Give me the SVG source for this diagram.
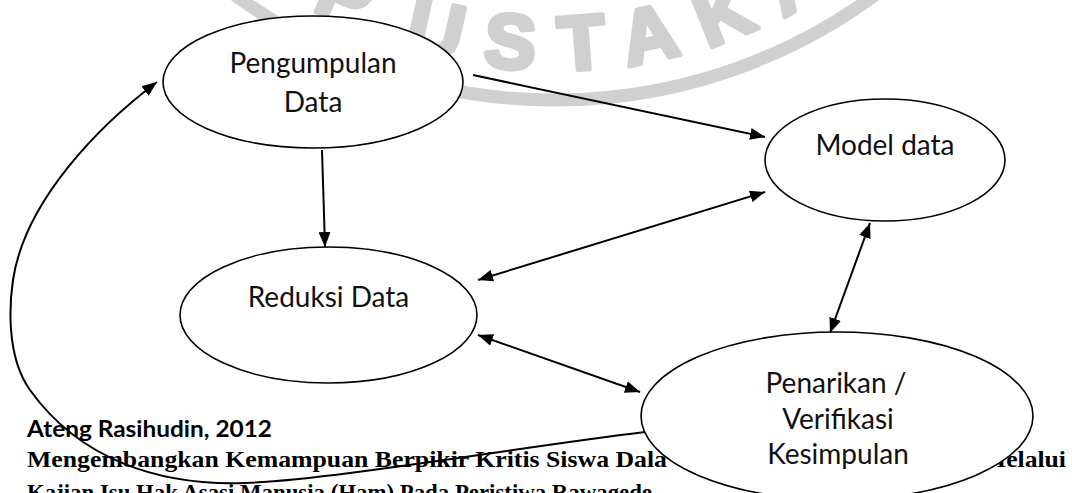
<svg xmlns="http://www.w3.org/2000/svg" xmlns:xlink="http://www.w3.org/1999/xlink" width="1072" height="493" viewBox="0 0 1072 493">
<style>
.node ellipse{fill:#fff;stroke:#000;stroke-width:1.6}
.lbl{font-family:Lato,"Open Sans","Liberation Sans",sans-serif;font-size:28px;fill:#111;text-anchor:middle}
.conn{fill:none;stroke:#000;stroke-width:2}
.wm{fill:#d0d0d0;stroke:#d0d0d0;stroke-width:5;stroke-linejoin:round;font-family:"Liberation Sans",Arial,sans-serif;font-weight:bold;font-size:77px}
.foot1{font-family:Lato,"Liberation Sans",sans-serif;font-weight:bold;font-size:23px;fill:#000}
.foot2{font-family:"Liberation Serif","Times New Roman",serif;font-weight:bold;font-size:23px;fill:#000}
</style>
<defs>
<marker id="ah" viewBox="0 0 15 12" refX="15" refY="6" markerWidth="15" markerHeight="12" markerUnits="userSpaceOnUse" orient="auto-start-reverse">
<path d="M0,0 L15,6 L0,12 z" fill="#000"/>
</marker>
<path id="wmArc" d="M45,-440 A510,510 0 0 0 1065,-440"/>
</defs>
<rect width="1072" height="493" fill="#fff"/>
<g id="watermark">
<circle cx="555" cy="-440" r="540" fill="none" stroke="#d0d0d0" stroke-width="13"/>
<text class="wm" letter-spacing="26"><textPath xlink:href="#wmArc" href="#wmArc" startOffset="548">P<tspan dx="22">USTAKA</tspan></textPath></text>
</g>
<g id="footer">
<text class="foot1" x="27" y="437" textLength="245" lengthAdjust="spacingAndGlyphs">Ateng Rasihudin, 2012</text>
<text class="foot2" x="27" y="467" textLength="640" lengthAdjust="spacingAndGlyphs">Mengembangkan Kemampuan Berpikir Kritis Siswa Dala</text>
<text class="foot2" x="982" y="467" textLength="84" lengthAdjust="spacingAndGlyphs">Melalui</text>
<text class="foot2" x="27" y="500" textLength="625" lengthAdjust="spacingAndGlyphs">Kajian Isu Hak Asasi Manusia (Ham) Pada Peristiwa Rawagede</text>
</g>
<g id="connectors">
<path class="conn" d="M473,75 L765,137" marker-end="url(#ah)"/>
<path class="conn" d="M322,150 L325,247" marker-end="url(#ah)"/>
<path class="conn" d="M478,280 L765,192" marker-start="url(#ah)" marker-end="url(#ah)"/>
<path class="conn" d="M870,223 L830,333" marker-start="url(#ah)" marker-end="url(#ah)"/>
<path class="conn" d="M478,335 L640,392" marker-start="url(#ah)" marker-end="url(#ah)"/>
<path class="conn" d="M645,432 C520,447 330,480 245,483 C160,486 80,460 30,390 C5,355 10,300 13,280 C25,200 100,125 157,82" marker-end="url(#ah)"/>
</g>
<g id="node-pengumpulan" class="node">
<ellipse cx="313" cy="82" rx="150" ry="66"/>
<text class="lbl" x="313" y="73">Pengumpulan</text>
<text class="lbl" x="313" y="112">Data</text>
</g>
<g id="node-model" class="node">
<ellipse cx="885" cy="160" rx="120" ry="61"/>
<text class="lbl" x="885" y="155">Model data</text>
</g>
<g id="node-reduksi" class="node">
<ellipse cx="328.5" cy="315" rx="148.5" ry="68"/>
<text class="lbl" x="328.5" y="307">Reduksi Data</text>
</g>
<g id="node-penarikan" class="node">
<ellipse cx="837" cy="416" rx="196" ry="84"/>
<text class="lbl" x="836" y="393">Penarikan /</text>
<text class="lbl" x="838" y="429">Verifikasi</text>
<text class="lbl" x="838" y="464">Kesimpulan</text>
</g>
</svg>
